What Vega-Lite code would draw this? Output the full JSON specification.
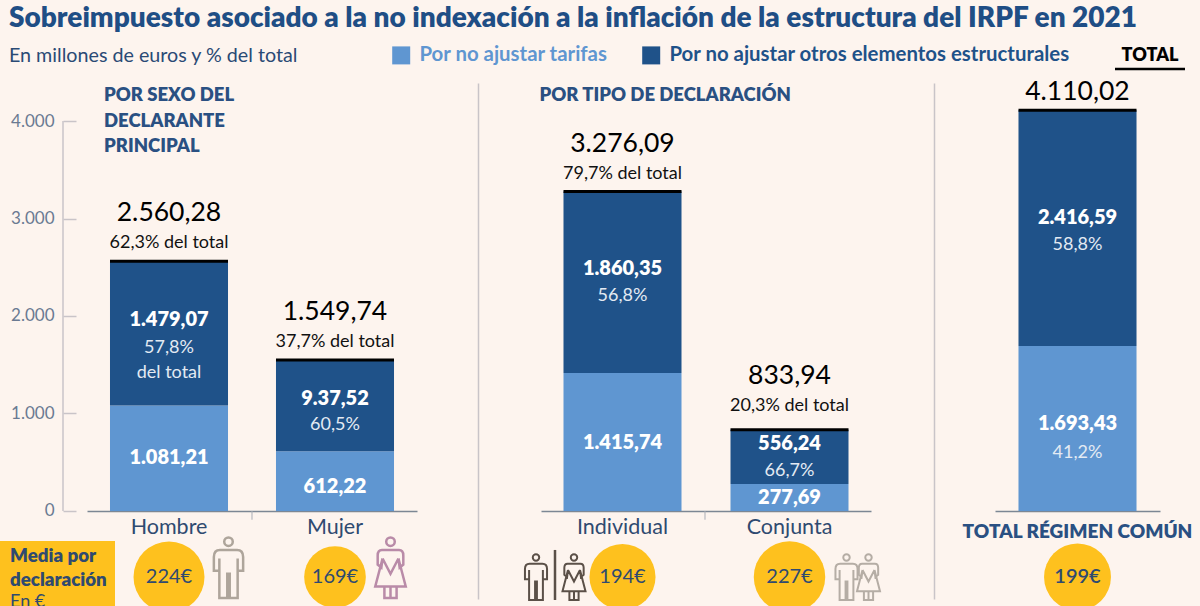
{"$schema":"https://vega.github.io/schema/vega-lite/v6.json","background":"#FDF4EE","padding":{"left":0,"top":5,"right":9,"bottom":0},"bounds":"flush","spacing":124,
"title":{"text":"Sobreimpuesto asociado a la no indexación a la inflación de la estructura del IRPF en 2021","subtitle":"En millones de euros y % del total","anchor":"start","dx":9,"fontSize":28,"fontWeight":800,"color":"#1F4E85","subtitleFontSize":19.7,"subtitleColor":"#2A4A75","subtitleFontWeight":400,"subtitlePadding":13,"offset":-21,"font":"Lato","subtitleFont":"Lato"},
"config":{"view":{"stroke":null},"font":"Lato"},
"resolve":{"legend":{"color":"independent"}},
"datasets":{
"barras":[
{"cat":"Hombre","tipo":"Por no ajustar tarifas","valor":1081.21,"texto":"1.081,21","pct":null},
{"cat":"Hombre","tipo":"Por no ajustar otros elementos estructurales","valor":1479.07,"texto":"1.479,07","pct":["57,8%","del total"]},
{"cat":"Mujer","tipo":"Por no ajustar tarifas","valor":612.22,"texto":"612,22","pct":null},
{"cat":"Mujer","tipo":"Por no ajustar otros elementos estructurales","valor":937.52,"texto":"9.37,52","pct":"60,5%"},
{"cat":"Individual","tipo":"Por no ajustar tarifas","valor":1415.74,"texto":"1.415,74","pct":null},
{"cat":"Individual","tipo":"Por no ajustar otros elementos estructurales","valor":1860.35,"texto":"1.860,35","pct":"56,8%"},
{"cat":"Conjunta","tipo":"Por no ajustar tarifas","valor":277.69,"texto":"277,69","pct":null},
{"cat":"Conjunta","tipo":"Por no ajustar otros elementos estructurales","valor":556.24,"texto":"556,24","pct":"66,7%"},
{"cat":"TOTAL RÉGIMEN COMÚN","tipo":"Por no ajustar tarifas","valor":1693.43,"texto":"1.693,43","pct":"41,2%"},
{"cat":"TOTAL RÉGIMEN COMÚN","tipo":"Por no ajustar otros elementos estructurales","valor":2416.59,"texto":"2.416,59","pct":"58,8%"}],
"totales":[
{"cat":"Hombre","total":2560.28,"texto":"2.560,28","pct":"62,3% del total","media":224,"mediaTexto":"224€"},
{"cat":"Mujer","total":1549.74,"texto":"1.549,74","pct":"37,7% del total","media":169,"mediaTexto":"169€"},
{"cat":"Individual","total":3276.09,"texto":"3.276,09","pct":"79,7% del total","media":194,"mediaTexto":"194€"},
{"cat":"Conjunta","total":833.94,"texto":"833,94","pct":"20,3% del total","media":227,"mediaTexto":"227€"},
{"cat":"TOTAL RÉGIMEN COMÚN","total":4110.02,"texto":"4.110,02","pct":"","media":199,"mediaTexto":"199€"}]
},
"hconcat":[
{"width":330,"height":516,
"encoding":{"x":{"field":"cat","type":"nominal","title":null,"scale":{"domain":["Hombre","Mujer"],"paddingInner":0.289,"paddingOuter":0.1385},"axis":{"labelAngle":0,"ticks":false,"offset":-88,"domainColor":"#7C8794","domainWidth":1.5,"labelFontSize":21.5,"labelColor":"#2F4A70","labelPadding":5,"labelFont":"Lato"}}},
"layer":[
{"data":{"name":"barras"},"transform":[{"filter":"datum.cat=='Hombre'||datum.cat=='Mujer'"}],"mark":{"type":"bar"},
"encoding":{"y":{"field":"valor","type":"quantitative","stack":"zero","title":null,"scale":{"domain":[-903,4390],"nice":false,"zero":false},"axis":{"values":[0,1000,2000,3000,4000],"grid":false,"domain":false,"offset":24,"tickSize":-13,"tickColor":"#C9C4C8","tickWidth":1.5,"labelPadding":22,"labelFontSize":17,"labelColor":"#6A7A92","labelExpr":"replace(format(datum.value,','),',','.')"}},
"color":{"field":"tipo","type":"nominal","legend":null,"scale":{"domain":["Por no ajustar tarifas","Por no ajustar otros elementos estructurales"],"range":["#5F96D1","#1F5289"]}},
"order":{"field":"tipo","sort":"descending"}}},
{"data":{"values":[{"cat":"Hombre"}]},"mark":{"type":"rule","xOffset":-106,"color":"#C9C4C8","strokeWidth":1.5},"encoding":{"y":{"datum":4000},"y2":{"datum":0}}},
{"data":{"values":[{"cat":"Mujer"}]},"mark":{"type":"rule","xOffset":-83,"color":"#A9AEB6","strokeWidth":1},"encoding":{"y":{"datum":0},"y2":{"datum":-90}}},
{"data":{"values":[{"cat":"Hombre","texto":["POR SEXO DEL","DECLARANTE","PRINCIPAL"]}]},"mark":{"type":"text","align":"left","baseline":"top","dx":-65,"fontSize":18.5,"fontWeight":800,"lineHeight":25.5,"color":"#2A5082"},"encoding":{"y":{"datum":4359},"text":{"field":"texto"}}},
{"data":{"values":[{"cat":"Hombre"}]},"mark":{"type":"bar","width":115,"xOffset":-111.5,"color":"#FEC11E"},"encoding":{"y":{"datum":-308},"y2":{"datum":-985}}},
{"data":{"values":[{"cat":"Hombre","texto":["Media por","declaración"]}]},"mark":{"type":"text","align":"left","baseline":"top","dx":-159,"fontSize":18.7,"fontWeight":800,"lineHeight":24,"color":"#2F4A70"},"encoding":{"y":{"datum":-369},"text":{"field":"texto"}}},
{"data":{"values":[{"cat":"Hombre","texto":"En €"}]},"mark":{"type":"text","align":"left","baseline":"top","dx":-159,"fontSize":18,"color":"#2F4A70"},"encoding":{"y":{"datum":-841},"text":{"field":"texto"}}},
{"data":{"name":"barras"},"transform":[{"filter":"datum.cat=='Hombre'||datum.cat=='Mujer'"},{"stack":"valor","groupby":["cat"],"sort":[{"field":"tipo","order":"descending"}],"as":["y0","y1"]},{"calculate":"(datum.y0+datum.y1)/2","as":"medio"},{"filter":"datum.pct&&datum.cat=='Hombre'"}],"mark":{"type":"text","dy":-13,"fontSize":20,"fontWeight":800,"color":"#FFFFFF"},"encoding":{"y":{"field":"medio","type":"quantitative"},"text":{"field":"texto"}}},
{"data":{"name":"barras"},"transform":[{"filter":"datum.cat=='Hombre'||datum.cat=='Mujer'"},{"stack":"valor","groupby":["cat"],"sort":[{"field":"tipo","order":"descending"}],"as":["y0","y1"]},{"calculate":"(datum.y0+datum.y1)/2","as":"medio"},{"filter":"datum.pct&&datum.cat=='Hombre'"}],"mark":{"type":"text","baseline":"top","dy":6,"fontSize":18,"lineHeight":25,"color":"#E3EAF3"},"encoding":{"y":{"field":"medio","type":"quantitative"},"text":{"field":"pct"}}},
{"data":{"name":"barras"},"transform":[{"filter":"datum.cat=='Hombre'||datum.cat=='Mujer'"},{"stack":"valor","groupby":["cat"],"sort":[{"field":"tipo","order":"descending"}],"as":["y0","y1"]},{"calculate":"(datum.y0+datum.y1)/2","as":"medio"},{"filter":"datum.pct&&datum.cat=='Mujer'"}],"mark":{"type":"text","dy":-7,"fontSize":20,"fontWeight":800,"color":"#FFFFFF"},"encoding":{"y":{"field":"medio","type":"quantitative"},"text":{"field":"texto"}}},
{"data":{"name":"barras"},"transform":[{"filter":"datum.cat=='Hombre'||datum.cat=='Mujer'"},{"stack":"valor","groupby":["cat"],"sort":[{"field":"tipo","order":"descending"}],"as":["y0","y1"]},{"calculate":"(datum.y0+datum.y1)/2","as":"medio"},{"filter":"datum.pct&&datum.cat=='Mujer'"}],"mark":{"type":"text","baseline":"top","dy":10,"fontSize":18,"color":"#E3EAF3"},"encoding":{"y":{"field":"medio","type":"quantitative"},"text":{"field":"pct"}}},
{"data":{"name":"barras"},"transform":[{"filter":"datum.cat=='Hombre'||datum.cat=='Mujer'"},{"stack":"valor","groupby":["cat"],"sort":[{"field":"tipo","order":"descending"}],"as":["y0","y1"]},{"calculate":"(datum.y0+datum.y1)/2","as":"medio"},{"filter":"!datum.pct&&datum.cat=='Hombre'"}],"mark":{"type":"text","dy":0,"fontSize":20,"fontWeight":800,"color":"#FFFFFF"},"encoding":{"y":{"field":"medio","type":"quantitative"},"text":{"field":"texto"}}},
{"data":{"name":"barras"},"transform":[{"filter":"datum.cat=='Hombre'||datum.cat=='Mujer'"},{"stack":"valor","groupby":["cat"],"sort":[{"field":"tipo","order":"descending"}],"as":["y0","y1"]},{"calculate":"(datum.y0+datum.y1)/2","as":"medio"},{"filter":"!datum.pct&&datum.cat=='Mujer'"}],"mark":{"type":"text","dy":6,"fontSize":20,"fontWeight":800,"color":"#FFFFFF"},"encoding":{"y":{"field":"medio","type":"quantitative"},"text":{"field":"texto"}}},
{"data":{"name":"totales"},"transform":[{"filter":"datum.cat=='Hombre'||datum.cat=='Mujer'"}],"mark":{"type":"tick","orient":"horizontal","size":118,"thickness":3,"opacity":1,"color":"#000000"},"encoding":{"y":{"field":"total","type":"quantitative"}}},
{"data":{"name":"totales"},"transform":[{"filter":"datum.cat=='Hombre'||datum.cat=='Mujer'"}],"mark":{"type":"text","dy":-18,"fontSize":18,"color":"#111111"},"encoding":{"y":{"field":"total","type":"quantitative"},"text":{"field":"pct"}}},
{"data":{"name":"totales"},"transform":[{"filter":"datum.cat=='Hombre'||datum.cat=='Mujer'"}],"mark":{"type":"text","dy":-48,"fontSize":26.5,"color":"#000000"},"encoding":{"y":{"field":"total","type":"quantitative"},"text":{"field":"texto"}}},
{"data":{"name":"totales"},"transform":[{"filter":"datum.cat=='Hombre'||datum.cat=='Mujer'"}],"mark":{"type":"point","shape":"circle","filled":true,"opacity":1,"color":"#FEC11E"},"encoding":{"y":{"datum":-677},"size":{"field":"media","type":"quantitative","legend":null,"scale":{"domain":[0,250],"range":[0,5625],"zero":true}}}},
{"data":{"name":"totales"},"transform":[{"filter":"datum.cat=='Hombre'||datum.cat=='Mujer'"}],"mark":{"type":"text","fontSize":20,"color":"#2F4A70"},"encoding":{"y":{"datum":-677},"text":{"field":"mediaTexto"}}},
{"data":{"values":[{"cat":"Hombre"}]},"mark":{"type":"point","size":3720,"xOffset":59.5,"strokeWidth":2.5,"color":"#AEA59B","opacity":1,"shape":"M-0.48,-0.35 Q-0.48,-0.58 -0.28,-0.58 L0.28,-0.58 Q0.48,-0.58 0.48,-0.35 L0.48,0.1 L0.3,0.1 L0.3,-0.3 L0.3,1 L0.04,1 L0.04,0.2 L-0.04,0.2 L-0.04,1 L-0.3,1 L-0.3,-0.3 L-0.3,0.1 L-0.48,0.1 Z M0.14,-0.85 A0.14,0.14 0 1 0 -0.14,-0.85 A0.14,0.14 0 1 0 0.14,-0.85 Z"},"encoding":{"y":{"datum":-581}}},
{"data":{"values":[{"cat":"Mujer"}]},"mark":{"type":"point","size":3720,"xOffset":55.5,"strokeWidth":2.5,"color":"#B98BA8","opacity":1,"shape":"M-0.28,-0.58 L0.28,-0.58 Q0.42,-0.58 0.42,-0.4 L0.42,-0.1 L0.3,0 L0.26,-0.3 L0.5,0.62 L-0.5,0.62 L-0.26,-0.3 L-0.3,0 L-0.42,-0.1 L-0.42,-0.4 Q-0.42,-0.58 -0.28,-0.58 Z M-0.26,-0.3 L0,0.2 L0.26,-0.3 M-0.2,0.62 L-0.2,1 L0.2,1 L0.2,0.62 M0,0.62 L0,1 M0.14,-0.85 A0.14,0.14 0 1 0 -0.14,-0.85 A0.14,0.14 0 1 0 0.14,-0.85 Z"},"encoding":{"y":{"datum":-581}}}
]},
{"width":330,"height":516,
"encoding":{"x":{"field":"cat","type":"nominal","title":null,"scale":{"domain":["Individual","Conjunta"],"paddingInner":0.2934,"paddingOuter":0.1347},"axis":{"labelAngle":0,"ticks":false,"offset":-88,"domainColor":"#7C8794","domainWidth":1.5,"labelFontSize":21.5,"labelColor":"#2F4A70","labelPadding":5,"labelFont":"Lato"}}},
"layer":[
{"data":{"name":"barras"},"transform":[{"filter":"datum.cat=='Individual'||datum.cat=='Conjunta'"}],"mark":{"type":"bar"},
"encoding":{"y":{"field":"valor","type":"quantitative","stack":"zero","title":null,"scale":{"domain":[-903,4390],"nice":false,"zero":false},"axis":{"values":[],"grid":false,"domain":true,"domainColor":"#C9C4C8","domainWidth":1.5,"ticks":false,"labels":false,"offset":63}},
"color":{"field":"tipo","type":"nominal","title":null,"scale":{"domain":["Por no ajustar tarifas","Por no ajustar otros elementos estructurales"],"range":["#5F96D1","#1F5289"]},"legend":{"orient":"none","legendX":-150,"legendY":-38,"direction":"horizontal","columns":2,"symbolType":"square","symbolSize":324,"symbolStrokeWidth":0,"symbolOpacity":1,"labelFontSize":20.4,"labelFontWeight":700,"labelLimit":0,"columnPadding":33,"labelOffset":8,"labelFont":"Lato","encode":{"labels":{"update":{"fill":{"signal":"datum.label=='Por no ajustar tarifas'?'#5F96D1':'#1F5289'"}}}}}},
"order":{"field":"tipo","sort":"descending"}}},
{"data":{"values":[{"cat":"Individual"}]},"mark":{"type":"rule","xOffset":82.5,"color":"#A9AEB6","strokeWidth":1},"encoding":{"y":{"datum":0},"y2":{"datum":-90}}},
{"data":{"values":[{"cat":"Individual","texto":"POR TIPO DE DECLARACIÓN"}]},"mark":{"type":"text","align":"left","baseline":"top","dx":-83,"fontSize":18.5,"fontWeight":800,"color":"#2A5082"},"encoding":{"y":{"datum":4359},"text":{"field":"texto"}}},
{"data":{"name":"barras"},"transform":[{"filter":"datum.cat=='Individual'||datum.cat=='Conjunta'"},{"stack":"valor","groupby":["cat"],"sort":[{"field":"tipo","order":"descending"}],"as":["y0","y1"]},{"calculate":"(datum.y0+datum.y1)/2","as":"medio"},{"filter":"datum.pct"}],"mark":{"type":"text","dy":-13,"fontSize":20,"fontWeight":800,"color":"#FFFFFF"},"encoding":{"y":{"field":"medio","type":"quantitative"},"text":{"field":"texto"}}},
{"data":{"name":"barras"},"transform":[{"filter":"datum.cat=='Individual'||datum.cat=='Conjunta'"},{"stack":"valor","groupby":["cat"],"sort":[{"field":"tipo","order":"descending"}],"as":["y0","y1"]},{"calculate":"(datum.y0+datum.y1)/2","as":"medio"},{"filter":"datum.pct"}],"mark":{"type":"text","baseline":"top","dy":5,"fontSize":18,"lineHeight":25,"color":"#E3EAF3"},"encoding":{"y":{"field":"medio","type":"quantitative"},"text":{"field":"pct"}}},
{"data":{"name":"barras"},"transform":[{"filter":"datum.cat=='Individual'||datum.cat=='Conjunta'"},{"stack":"valor","groupby":["cat"],"sort":[{"field":"tipo","order":"descending"}],"as":["y0","y1"]},{"calculate":"(datum.y0+datum.y1)/2","as":"medio"},{"filter":"!datum.pct"}],"mark":{"type":"text","dy":1,"fontSize":20,"fontWeight":800,"color":"#FFFFFF"},"encoding":{"y":{"field":"medio","type":"quantitative"},"text":{"field":"texto"}}},
{"data":{"name":"totales"},"transform":[{"filter":"datum.cat=='Individual'||datum.cat=='Conjunta'"}],"mark":{"type":"tick","orient":"horizontal","size":118,"thickness":3,"opacity":1,"color":"#000000"},"encoding":{"y":{"field":"total","type":"quantitative"}}},
{"data":{"name":"totales"},"transform":[{"filter":"datum.cat=='Individual'"}],"mark":{"type":"text","dy":-18,"fontSize":18,"color":"#111111"},"encoding":{"y":{"field":"total","type":"quantitative"},"text":{"field":"pct"}}},
{"data":{"name":"totales"},"transform":[{"filter":"datum.cat=='Individual'"}],"mark":{"type":"text","dy":-48,"fontSize":26.5,"color":"#000000"},"encoding":{"y":{"field":"total","type":"quantitative"},"text":{"field":"texto"}}},
{"data":{"name":"totales"},"transform":[{"filter":"datum.cat=='Conjunta'"}],"mark":{"type":"text","dy":-24,"fontSize":18,"color":"#111111"},"encoding":{"y":{"field":"total","type":"quantitative"},"text":{"field":"pct"}}},
{"data":{"name":"totales"},"transform":[{"filter":"datum.cat=='Conjunta'"}],"mark":{"type":"text","dy":-54,"fontSize":26.5,"color":"#000000"},"encoding":{"y":{"field":"total","type":"quantitative"},"text":{"field":"texto"}}},
{"data":{"name":"totales"},"transform":[{"filter":"datum.cat=='Individual'||datum.cat=='Conjunta'"}],"mark":{"type":"point","shape":"circle","filled":true,"opacity":1,"color":"#FEC11E"},"encoding":{"y":{"datum":-677},"size":{"field":"media","type":"quantitative","legend":null,"scale":{"domain":[0,250],"range":[0,5625],"zero":true}}}},
{"data":{"name":"totales"},"transform":[{"filter":"datum.cat=='Individual'||datum.cat=='Conjunta'"}],"mark":{"type":"text","fontSize":20,"color":"#2F4A70"},"encoding":{"y":{"datum":-677},"text":{"field":"mediaTexto"}}},
{"data":{"values":[{"cat":"Individual"}]},"mark":{"type":"rule","xOffset":-67.5,"color":"#5B5048","strokeWidth":2.5},"encoding":{"y":{"datum":-400},"y2":{"datum":-913}}},
{"data":{"values":[{"cat":"Individual"}]},"mark":{"type":"point","size":2116,"xOffset":-86.5,"strokeWidth":2,"color":"#5B5048","opacity":1,"shape":"M-0.48,-0.35 Q-0.48,-0.58 -0.28,-0.58 L0.28,-0.58 Q0.48,-0.58 0.48,-0.35 L0.48,0.1 L0.3,0.1 L0.3,-0.3 L0.3,1 L0.04,1 L0.04,0.2 L-0.04,0.2 L-0.04,1 L-0.3,1 L-0.3,-0.3 L-0.3,0.1 L-0.48,0.1 Z M0.14,-0.85 A0.14,0.14 0 1 0 -0.14,-0.85 A0.14,0.14 0 1 0 0.14,-0.85 Z"},"encoding":{"y":{"datum":-677}}},
{"data":{"values":[{"cat":"Individual"}]},"mark":{"type":"point","size":2116,"xOffset":-48.5,"strokeWidth":2,"color":"#5B5048","opacity":1,"shape":"M-0.28,-0.58 L0.28,-0.58 Q0.42,-0.58 0.42,-0.4 L0.42,-0.1 L0.3,0 L0.26,-0.3 L0.5,0.62 L-0.5,0.62 L-0.26,-0.3 L-0.3,0 L-0.42,-0.1 L-0.42,-0.4 Q-0.42,-0.58 -0.28,-0.58 Z M-0.26,-0.3 L0,0.2 L0.26,-0.3 M-0.2,0.62 L-0.2,1 L0.2,1 L0.2,0.62 M0,0.62 L0,1 M0.14,-0.85 A0.14,0.14 0 1 0 -0.14,-0.85 A0.14,0.14 0 1 0 0.14,-0.85 Z"},"encoding":{"y":{"datum":-677}}},
{"data":{"values":[{"cat":"Conjunta"}]},"mark":{"type":"point","size":2116,"xOffset":57,"strokeWidth":2,"color":"#B5ADA5","opacity":1,"shape":"M-0.48,-0.35 Q-0.48,-0.58 -0.28,-0.58 L0.28,-0.58 Q0.48,-0.58 0.48,-0.35 L0.48,0.1 L0.3,0.1 L0.3,-0.3 L0.3,1 L0.04,1 L0.04,0.2 L-0.04,0.2 L-0.04,1 L-0.3,1 L-0.3,-0.3 L-0.3,0.1 L-0.48,0.1 Z M0.14,-0.85 A0.14,0.14 0 1 0 -0.14,-0.85 A0.14,0.14 0 1 0 0.14,-0.85 Z"},"encoding":{"y":{"datum":-677}}},
{"data":{"values":[{"cat":"Conjunta"}]},"mark":{"type":"point","size":2116,"xOffset":79,"strokeWidth":2,"color":"#B5ADA5","opacity":1,"shape":"M-0.28,-0.58 L0.28,-0.58 Q0.42,-0.58 0.42,-0.4 L0.42,-0.1 L0.3,0 L0.26,-0.3 L0.5,0.62 L-0.5,0.62 L-0.26,-0.3 L-0.3,0 L-0.42,-0.1 L-0.42,-0.4 Q-0.42,-0.58 -0.28,-0.58 Z M-0.26,-0.3 L0,0.2 L0.26,-0.3 M-0.2,0.62 L-0.2,1 L0.2,1 L0.2,0.62 M0,0.62 L0,1 M0.14,-0.85 A0.14,0.14 0 1 0 -0.14,-0.85 A0.14,0.14 0 1 0 0.14,-0.85 Z"},"encoding":{"y":{"datum":-677}}}
]},
{"width":165,"height":516,
"encoding":{"x":{"field":"cat","type":"nominal","title":null,"scale":{"domain":["TOTAL RÉGIMEN COMÚN"],"paddingInner":0,"paddingOuter":0.199},"axis":{"labelAngle":0,"ticks":false,"offset":-88,"domainColor":"#7C8794","domainWidth":1.5,"labelFontSize":19,"labelFontWeight":800,"labelColor":"#2A5082","labelPadding":11,"labelLimit":0,"labelFont":"Lato"}}},
"layer":[
{"data":{"name":"barras"},"transform":[{"filter":"datum.cat=='TOTAL RÉGIMEN COMÚN'"}],"mark":{"type":"bar"},
"encoding":{"y":{"field":"valor","type":"quantitative","stack":"zero","title":null,"scale":{"domain":[-903,4390],"nice":false,"zero":false},"axis":{"values":[],"grid":false,"domain":true,"domainColor":"#C9C4C8","domainWidth":1.5,"ticks":false,"labels":false,"offset":61}},
"color":{"field":"tipo","type":"nominal","legend":null,"scale":{"domain":["Por no ajustar tarifas","Por no ajustar otros elementos estructurales"],"range":["#5F96D1","#1F5289"]}},
"order":{"field":"tipo","sort":"descending"}}},
{"data":{"values":[{"cat":"TOTAL RÉGIMEN COMÚN","texto":"TOTAL"}]},"mark":{"type":"text","dx":72.5,"fontSize":18,"fontWeight":800,"color":"#000000"},"encoding":{"y":{"datum":4667},"text":{"field":"texto"}}},
{"data":{"values":[{"cat":"TOTAL RÉGIMEN COMÚN"}]},"mark":{"type":"tick","orient":"horizontal","size":70,"thickness":2.5,"opacity":1,"xOffset":72.5,"color":"#000000"},"encoding":{"y":{"datum":4533}}},
{"data":{"name":"barras"},"transform":[{"stack":"valor","groupby":["cat"],"sort":[{"field":"tipo","order":"descending"}],"as":["y0","y1"]},{"calculate":"(datum.y0+datum.y1)/2","as":"medio"},{"filter":"datum.cat=='TOTAL RÉGIMEN COMÚN'&&datum.tipo!='Por no ajustar tarifas'"}],"mark":{"type":"text","dy":-10,"fontSize":20,"fontWeight":800,"color":"#FFFFFF"},"encoding":{"y":{"field":"medio","type":"quantitative"},"text":{"field":"texto"}}},
{"data":{"name":"barras"},"transform":[{"stack":"valor","groupby":["cat"],"sort":[{"field":"tipo","order":"descending"}],"as":["y0","y1"]},{"calculate":"(datum.y0+datum.y1)/2","as":"medio"},{"filter":"datum.cat=='TOTAL RÉGIMEN COMÚN'&&datum.tipo!='Por no ajustar tarifas'"}],"mark":{"type":"text","baseline":"top","dy":8,"fontSize":18,"color":"#E3EAF3"},"encoding":{"y":{"field":"medio","type":"quantitative"},"text":{"field":"pct"}}},
{"data":{"name":"barras"},"transform":[{"stack":"valor","groupby":["cat"],"sort":[{"field":"tipo","order":"descending"}],"as":["y0","y1"]},{"calculate":"(datum.y0+datum.y1)/2","as":"medio"},{"filter":"datum.cat=='TOTAL RÉGIMEN COMÚN'&&datum.tipo=='Por no ajustar tarifas'"}],"mark":{"type":"text","dy":-4,"fontSize":20,"fontWeight":800,"color":"#FFFFFF"},"encoding":{"y":{"field":"medio","type":"quantitative"},"text":{"field":"texto"}}},
{"data":{"name":"barras"},"transform":[{"stack":"valor","groupby":["cat"],"sort":[{"field":"tipo","order":"descending"}],"as":["y0","y1"]},{"calculate":"(datum.y0+datum.y1)/2","as":"medio"},{"filter":"datum.cat=='TOTAL RÉGIMEN COMÚN'&&datum.tipo=='Por no ajustar tarifas'"}],"mark":{"type":"text","baseline":"top","dy":16,"fontSize":18,"color":"#E3EAF3"},"encoding":{"y":{"field":"medio","type":"quantitative"},"text":{"field":"pct"}}},
{"data":{"name":"totales"},"transform":[{"filter":"datum.cat=='TOTAL RÉGIMEN COMÚN'"}],"mark":{"type":"tick","orient":"horizontal","size":118,"thickness":3,"opacity":1,"color":"#000000"},"encoding":{"y":{"field":"total","type":"quantitative"}}},
{"data":{"name":"totales"},"transform":[{"filter":"datum.cat=='TOTAL RÉGIMEN COMÚN'"}],"mark":{"type":"text","dy":-18,"fontSize":26.5,"color":"#000000"},"encoding":{"y":{"field":"total","type":"quantitative"},"text":{"field":"texto"}}},
{"data":{"name":"totales"},"transform":[{"filter":"datum.cat=='TOTAL RÉGIMEN COMÚN'"}],"mark":{"type":"point","shape":"circle","filled":true,"opacity":1,"color":"#FEC11E"},"encoding":{"y":{"datum":-677},"size":{"field":"media","type":"quantitative","legend":null,"scale":{"domain":[0,250],"range":[0,5625],"zero":true}}}},
{"data":{"name":"totales"},"transform":[{"filter":"datum.cat=='TOTAL RÉGIMEN COMÚN'"}],"mark":{"type":"text","fontSize":20,"fontWeight":600,"color":"#2F4A70"},"encoding":{"y":{"datum":-677},"text":{"field":"mediaTexto"}}}
]}
]}
